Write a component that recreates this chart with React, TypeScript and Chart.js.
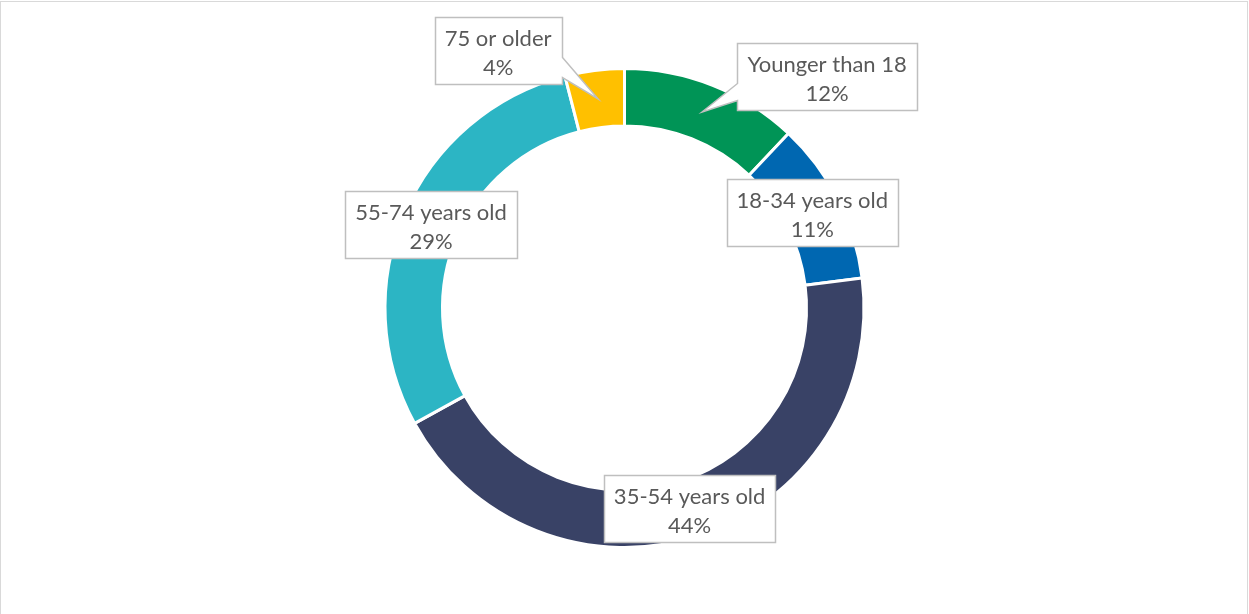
import React, { useEffect, useRef } from "react";
import { Chart, registerables } from "chart.js";

Chart.register(...registerables);

const categories = ["Younger than 18", "18-34 years old", "35-54 years old", "55-74 years old", "75 or older"];
const values = [12, 11, 44, 29, 4];
const percentLabels = ["12%", "11%", "44%", "29%", "4%"];
const colors = ["#009456", "#0067B1", "#394266", "#2CB5C4", "#FFC000"];
// label box offsets from segment centroid (callouts for moved labels)
const labelOffsets = [
  [125, -36],
  [0, 0],
  [0, 0],
  [0, 0],
  [-100, -48],
];

const FONT = "22px Lato";
const TEXT_COLOR = "#595959";
const BOX_STROKE = "#BFBFBF";

const calloutPlugin = {
  id: "callouts",
  afterDatasetsDraw(chart: any) {
    const ctx = chart.ctx as CanvasRenderingContext2D;
    const meta = chart.getDatasetMeta(0);
    ctx.save();
    ctx.font = FONT;
    meta.data.forEach((arc: any, i: number) => {
      const c = arc.tooltipPosition(false);
      const [dx, dy] = labelOffsets[i];
      const cx = c.x + dx;
      const cy = c.y + dy;
      const lines = [categories[i], percentLabels[i]];
      const w = Math.max(...lines.map((l) => ctx.measureText(l).width)) + 20;
      const h = 67;
      const L = Math.round(cx - w / 2) + 0.5;
      const R = Math.round(cx + w / 2) + 0.5;
      const T = Math.round(cy - h / 2) + 0.5;
      const B = T + h;
      ctx.beginPath();
      if (dx === 0 && dy === 0) {
        ctx.rect(L, T, R - L, B - T);
      } else if (c.x < L) {
        ctx.moveTo(L, T);
        ctx.lineTo(R, T);
        ctx.lineTo(R, B);
        ctx.lineTo(L, B);
        ctx.lineTo(L, T + 57);
        ctx.lineTo(c.x, c.y);
        ctx.lineTo(L, T + 40);
        ctx.closePath();
      } else {
        ctx.moveTo(L, T);
        ctx.lineTo(R, T);
        ctx.lineTo(R, T + 40);
        ctx.lineTo(c.x, c.y);
        ctx.lineTo(R, T + 60);
        ctx.lineTo(R, B);
        ctx.lineTo(L, B);
        ctx.closePath();
      }
      ctx.fillStyle = "#FFFFFF";
      ctx.fill();
      ctx.strokeStyle = BOX_STROKE;
      ctx.lineWidth = 1.5;
      ctx.stroke();
      ctx.fillStyle = TEXT_COLOR;
      ctx.textAlign = "center";
      ctx.textBaseline = "alphabetic";
      ctx.fillText(lines[0], cx, T + 28);
      ctx.fillText(lines[1], cx, T + 57);
    });
    ctx.restore();
  },
};

export default function App() {
  const canvasRef = useRef<HTMLCanvasElement | null>(null);
  useEffect(() => {
    const canvas = canvasRef.current;
    if (!canvas) return;
    const chart = new Chart(canvas, {
      type: "doughnut",
      data: {
        labels: categories,
        datasets: [
          {
            data: values,
            backgroundColor: colors,
            borderColor: "#FFFFFF",
            borderWidth: 3,
            hoverOffset: 0,
          },
        ],
      },
      options: {
        responsive: false,
        animation: false,
        cutout: "76%",
        rotation: 0,
        layout: { padding: { top: 67, bottom: 65, left: 0, right: 0 } },
        plugins: {
          legend: { display: false },
          tooltip: { enabled: false },
        },
      },
      plugins: [calloutPlugin],
    });
    return () => chart.destroy();
  }, []);
  return (
    <div
      style={{
        position: "fixed",
        left: 0,
        top: 0,
        width: 1249,
        height: 614,
        background: "#FFFFFF",
        overflow: "hidden",
      }}
    >
      <div
        style={{
          position: "absolute",
          left: 0,
          top: 1,
          width: 1248,
          height: 700,
          boxSizing: "border-box",
          border: "1.5px solid #D9D9D9",
        }}
      />
      <canvas
        ref={canvasRef}
        width={1249}
        height={614}
        style={{ position: "absolute", left: 0, top: 0, width: 1249, height: 614 }}
      />
    </div>
  );
}
